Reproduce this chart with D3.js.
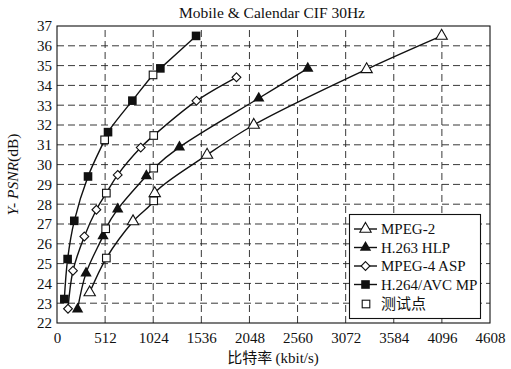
<!DOCTYPE html>
<html><head><meta charset="utf-8">
<script src="https://cdn.jsdelivr.net/npm/d3@7/dist/d3.min.js"></script>
<style>body{margin:0;background:#fff}svg{display:block}</style>
</head><body>
<script>
const title = "Mobile & Calendar CIF 30Hz";
const xTicks = [0,512,1024,1536,2048,2560,3072,3584,4096,4608];
const yTicks = [22,23,24,25,26,27,28,29,30,31,32,33,34,35,36,37];
const seriesNames = ["MPEG-2","H.263 HLP","MPEG-4 ASP","H.264/AVC MP"];
const testLabel = "测试点";
// [kbit/s, dB]
const mpeg2 = [[348,23.54],[809,27.13],[1040,28.55],[1597,30.49],[2094,32.0],[3295,34.81],[4093,36.5]];
const h263  = [[219,22.7],[309,24.52],[490,26.4],[646,27.75],[951,29.43],[1303,30.88],[2147,33.35],[2669,34.86]];
const mpeg4 = [[117,22.72],[170,24.64],[291,26.37],[419,27.72],[646,29.48],[891,30.86],[1484,33.22],[1910,34.41]];
const h264  = [[78,23.21],[113,25.23],[184,27.16],[330,29.4],[543,31.64],[802,33.23],[1100,34.86],[1480,36.5]];
const testMpeg2 = [[525,25.28],[1029,28.17]];
const testH263  = [[518,26.76],[1029,29.82]];
const testMpeg4 = [[525,28.56],[1029,31.47]];
const testH264  = [[507,31.25],[1022,34.53]];

const W=511,H=369;
const m={l:57,r:21,t:26,b:46};
const svg=d3.select("body").append("svg").attr("width",W).attr("height",H);
const x=d3.scaleLinear().domain([0,4608]).range([m.l,W-m.r]);
const y=d3.scaleLinear().domain([22,37]).range([H-m.b,m.t]);
const serif="'Liberation Serif','Times New Roman',serif";

// grid
const g=svg.append("g");
g.selectAll(".gx").data(xTicks.slice(1,-1)).join("line")
 .attr("x1",d=>x(d)).attr("x2",d=>x(d)).attr("y1",y(22)).attr("y2",y(37))
 .attr("stroke","#222").attr("stroke-width",0.9).attr("stroke-dasharray","7,4");
g.selectAll(".gy").data(yTicks.slice(1,-1)).join("line")
 .attr("y1",d=>y(d)).attr("y2",d=>y(d)).attr("x1",x(0)).attr("x2",x(4608))
 .attr("stroke","#222").attr("stroke-width",0.9).attr("stroke-dasharray","7,4");

// axes
const ax=svg.append("g").attr("transform",`translate(0,${y(22)})`)
 .call(d3.axisBottom(x).tickValues(xTicks).tickSize(0).tickPadding(6).tickFormat(d3.format("d")));
const ay=svg.append("g").attr("transform",`translate(${x(0)},0)`)
 .call(d3.axisLeft(y).tickValues(yTicks).tickSize(0).tickPadding(5).tickFormat(d3.format("d")));
[ax,ay].forEach(a=>{a.select(".domain").remove();a.selectAll("text").attr("font-family",serif).attr("font-size",15).attr("fill","#111");});
ax.selectAll("text").attr("dy","0.95em");

// frame
svg.append("rect").attr("x",x(0)).attr("y",y(37)).attr("width",x(4608)-x(0)).attr("height",y(22)-y(37))
 .attr("fill","none").attr("stroke","#111").attr("stroke-width",1.1);

// curves
const line=d3.line().x(d=>x(d[0])).y(d=>y(d[1])).curve(d3.curveCatmullRom.alpha(0.5));
const all=[[mpeg2,testMpeg2],[h263,testH263],[mpeg4,testMpeg4],[h264,testH264]];
all.forEach(([s,t])=>{
  const pts=s.concat(t).sort((a,b)=>a[0]-b[0]);
  svg.append("path").attr("d",line(pts)).attr("fill","none").attr("stroke","#111").attr("stroke-width",1.4);
});

const tri=d3.symbol().type(d3.symbolTriangle).size(56);
const dia=(cx,cy,r)=>`M${cx},${cy-r}L${cx+r},${cy}L${cx},${cy+r}L${cx-r},${cy}Z`;
function marker(sel,kind,cx,cy){
  if(kind===0) sel.append("path").attr("d",tri()).attr("transform",`translate(${cx},${cy})`).attr("fill","#fff").attr("stroke","#111").attr("stroke-width",1.1);
  if(kind===1) sel.append("path").attr("d",tri()).attr("transform",`translate(${cx},${cy})`).attr("fill","#111");
  if(kind===2) sel.append("path").attr("d",dia(cx,cy,4.4)).attr("fill","#fff").attr("stroke","#111").attr("stroke-width",1.1);
  if(kind===3) sel.append("rect").attr("x",cx-4.3).attr("y",cy-4.3).attr("width",8.6).attr("height",8.6).attr("fill","#111");
  if(kind===4) sel.append("rect").attr("x",cx-3.8).attr("y",cy-3.8).attr("width",7.6).attr("height",7.6).attr("fill","#fff").attr("stroke","#111").attr("stroke-width",1.1);
}
const mk=svg.append("g");
all.forEach(([s,t],i)=>{
  s.forEach(d=>marker(mk,i,x(d[0]),y(d[1])));
  t.forEach(d=>marker(mk,4,x(d[0]),y(d[1])));
});

// legend
const lg=svg.append("g");
lg.append("rect").attr("x",349.5).attr("y",214.5).attr("width",131).attr("height",104)
 .attr("fill","#fff").attr("stroke","#111").attr("stroke-width",1.1);
const ly=[229,247.5,266,284.5,304];
const names=seriesNames.concat([testLabel]);
names.forEach((n,i)=>{
  if(i<4){
    lg.append("line").attr("x1",354).attr("x2",377).attr("y1",ly[i]).attr("y2",ly[i]).attr("stroke","#111").attr("stroke-width",1.4);
    marker(lg,i,365.5,ly[i]);
  } else marker(lg,4,366,ly[i]);
  lg.append("text").attr("x",381).attr("y",ly[i]).attr("dy","0.35em")
   .attr("font-family",i<4?serif:"'Noto Sans CJK SC',sans-serif").attr("font-size",i<4?15:15).attr("fill","#111").text(n);
});

// title
svg.append("text").attr("x",272).attr("y",18).attr("text-anchor","middle")
 .attr("font-family",serif).attr("font-size",15.5).attr("fill","#111").text(title);

// x label
const xl=svg.append("text").attr("x",273).attr("y",363).attr("text-anchor","middle").attr("fill","#111").attr("font-size",15);
xl.append("tspan").attr("font-family","'Noto Sans CJK SC',sans-serif").text("比特率 ");
xl.append("tspan").attr("font-family",serif).text("(kbit/s)");

// y label
const yl=svg.append("text").attr("transform",`translate(18,${y(29.5)}) rotate(-90)`).attr("text-anchor","middle")
 .attr("font-family",serif).attr("font-size",15.5).attr("fill","#111");
yl.append("tspan").attr("font-style","italic").text("Y- PSNR");
yl.append("tspan").text("(dB)");
</script>
</body></html>
